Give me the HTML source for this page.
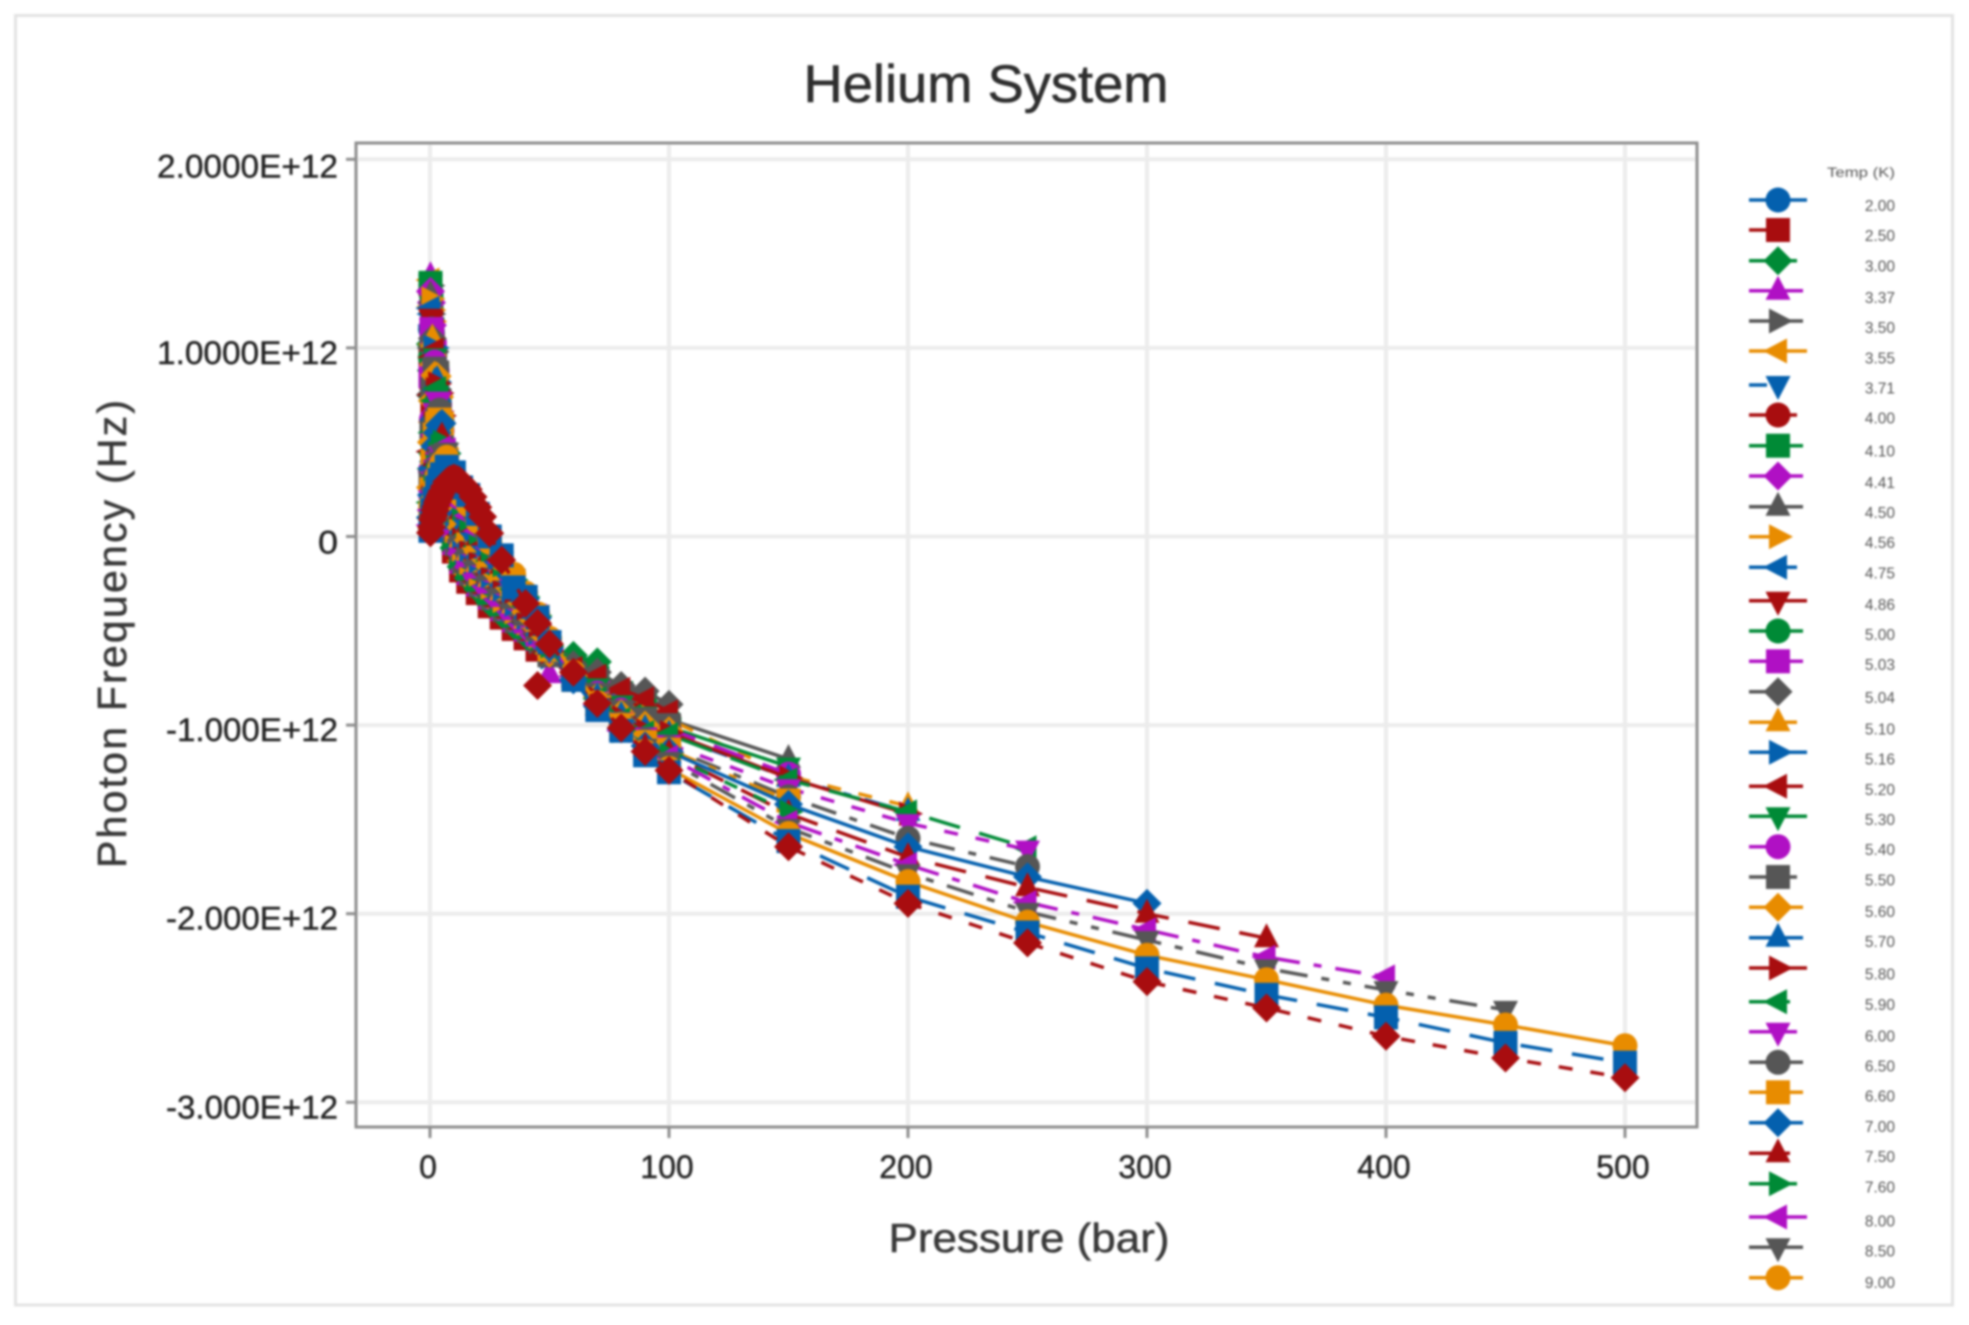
<!DOCTYPE html>
<html lang="en">
<head>
<meta charset="utf-8">
<title>Helium System</title>
<style>
html,body{margin:0;padding:0;background:#fff;width:1969px;height:1325px;overflow:hidden}
svg{display:block;filter:blur(1.1px);font-family:"Liberation Sans",sans-serif}
</style>
</head>
<body>
<svg id="chart" xmlns="http://www.w3.org/2000/svg" width="1969" height="1325" viewBox="0 0 1969 1325">
  <rect x="15.5" y="15.5" width="1937" height="1289.5" fill="#fff" stroke="#e3e3e3" stroke-width="3"/>
  <text x="986" y="102" font-size="53" text-anchor="middle" fill="#2e2e2e" stroke="#2e2e2e" stroke-width="0.6" textLength="365" lengthAdjust="spacingAndGlyphs">Helium System</text>
  <g id="grid"></g>
  <g id="ticks"></g>
  <rect x="356" y="143" width="1341" height="984" fill="none" stroke="#8e8e8e" stroke-width="3"/>
  <g id="marks"></g>
  <text x="1029" y="1252" font-size="41" text-anchor="middle" fill="#383838" stroke="#383838" stroke-width="0.5" textLength="281" lengthAdjust="spacingAndGlyphs">Pressure (bar)</text>
  <text transform="translate(126,634) rotate(-90)" font-size="41" text-anchor="middle" fill="#383838" stroke="#383838" stroke-width="0.5" textLength="468" lengthAdjust="spacing">Photon Frequency (Hz)</text>
  <text x="1895" y="177" font-size="14" text-anchor="end" fill="#555" textLength="68" lengthAdjust="spacingAndGlyphs">Temp (K)</text>
  <g id="legend"></g>
</svg>
<script>
const n = null;
const xTicks = [0, 100, 200, 300, 400, 500];
const yTicks = [2, 1, 0, -1, -2, -3];
const yTickLabels = ["2.0000E+12", "1.0000E+12", "0", "-1.000E+12", "-2.000E+12", "-3.000E+12"];
const pressures = [0.2,0.6,1,2,3,4,5,7,10,13,16,20,25,30,35,40,45,50,60,70,80,90,100,150,200,250,300,350,400,450,500];
const legendTemps = ["2.00","2.50","3.00","3.37","3.50","3.55","3.71","4.00","4.10","4.41","4.50","4.56","4.75","4.86","5.00","5.03","5.04","5.10","5.16","5.20","5.30","5.40","5.50","5.60","5.70","5.80","5.90","6.00","6.50","6.60","7.00","7.50","7.60","8.00","8.50","9.00"];

/* photon frequency in units of 1E+12 Hz, one value per pressure until the series ends */
const t200 = [1.10,.9,.72,.55,.42,.33,.25,.07,-.07,-.17,-.23,-.29,-.36,-.42];
const t250 = [.95,.84,.68,.52,.40,.31,.24,.05,-.08,-.18,-.24,-.30,-.37,-.43,-.49,-.54,-.60];
const t300 = [1.02,.88,.74,.58,.43,.34,.26,.08,-.06,-.16,-.22,-.28,-.35,-.41,-.47,-.52,-.56,-.59,-.63,-.665];
const t337 = [1.38,1.2,.96,.66,.47,.36,.28,.1,-.05,-.15,-.21,-.27,-.34,-.40,-.46,-.51,-.56,-.73];
const t350 = [1.33,1.18,1.0,.7,.5,.38,.29,.11,-.04,-.14,-.20,-.26,-.33,-.39,-.45,-.50,-.56,-.62,-.68];
const t355 = [1.36,1.22,1.02,.72,.52,.39,.3,.12,-.03,-.13,-.20,-.26,-.32,-.38,-.44,-.50,-.55,-.61];
const t371 = [1.34,1.22,1.05,.76,.55,.41,.31,.13,-.02,-.12,-.19,-.25,-.31,-.38,-.44,-.50,-.56,-.62,-.69,-.74];
const t400 = [1.30,1.2,1.07,.8,.58,.43,.33,.14,-.01,-.11,-.18,-.24,-.31,-.37,-.43,-.49,-.55,-.61,-.70,-.76,-.82];
const t410 = [1.345,1.25,1.1,.83,.6,.45,.35,.15,0,-.10,-.17,-.23,-.30,-.36,-.42,-.48,-.54,-.60,-.69,-.75,-.83,-.88];
const t441 = [1.30,1.24,1.12,.86,.62,.47,.37,.16,.01,-.09,-.16,-.22,-.29,-.35,-.42,-.48,-.54,-.60,-.70,-.77,-.85];
const t450 = [1.28,1.24,1.14,.89,.65,.49,.38,.17,.02,-.08,-.15,-.21,-.28,-.34,-.41,-.47,-.53,-.59,-.68,-.72,-.85,-.90,-.97,-1.18];
const t456 = [1.26,1.2,1.14,.92,.68,.51,.39,.18,.03,-.07,-.14,-.20,-.27,-.34,-.40,-.46,-.53,-.59,-.70,-.78,-.86,-.92];
const t475 = [1.21,1.18,1.12,.94,.7,.53,.41,.19,.04,-.06,-.13,-.19,-.26,-.33,-.40,-.46,-.52,-.60,-.72,-.80,-.88,-.96];
const t486 = [1.16,1.15,1.10,.96,.72,.55,.43,.2,.05,-.05,-.12,-.18,-.25,-.32,-.39,-.46,-.52,-.60,-.71,-.79,-.87,-.93,-1.00];
const t500 = [.95,1.10,1.08,.96,.74,.57,.45,.21,.06,-.04,-.11,-.17,-.25,-.31,-.38,-.45,-.52,-.61,-.72,-.80,-.88,-.95,-.97];
const t503 = [.85,1.10,1.07,.98,.76,.58,.46,.22,.07,-.03,-.10,-.16,-.24,-.31,-.38,-.45,-.52,-.62,-.73,-.82,-.90,-.97,-1.02];
const t504 = [.75,1.0,1.05,.98,.78,.6,.47,.23,.08,-.02,-.09,-.15,-.23,-.30,-.37,-.44,-.51,-.62,-.68,-.72,-.79,-.82,-.89];
const t510 = [.65,.95,1.05,1.0,.8,.62,.48,.24,.09,-.01,-.08,-.14,-.22,-.29,-.36,-.44,-.51,-.63,-.74,-.83,-.90,-.94,-.97,-1.27,-1.43];
const t516 = [.55,.85,1.0,1.0,.82,.64,.5,.25,.1,0,-.07,-.13,-.21,-.28,-.36,-.43,-.51,-.64,-.75,-.85,-.96,-1.02,-1.06];
const t520 = [.45,.75,.95,.99,.84,.66,.52,.26,.11,.01,-.06,-.12,-.2,-.27,-.35,-.43,-.5,-.63,-.7,-.74,-.81,-.86,-.93];
const t530 = [.4,.7,.9,.95,.86,.68,.54,.27,.12,.02,-.05,-.11,-.19,-.26,-.34,-.42,-.5,-.62,-.72,-.80,-.89,-.95,-1.01,-1.22];
const t540 = [.35,.62,.85,.925,.88,.7,.56,.28,.13,.03,-.04,-.1,-.18,-.25,-.33,-.42,-.5,-.63,-.74,-.83,-.92,-.99,-1.02,-1.26];
const t550 = [.3,.56,.78,.89,.87,.72,.58,.29,.14,.04,-.03,-.09,-.17,-.24,-.32,-.41,-.49,-.63,-.74,-.84,-.93,-.97,-1.00];
const t560 = [.26,.5,.72,.855,.85,.74,.6,.3,.15,.05,-.02,-.08,-.16,-.23,-.31,-.4,-.49,-.62,-.74,-.85,-.94,-1.0,-1.03];
const t570 = [.22,.44,.66,.82,.83,.76,.62,.32,.16,.06,-.01,-.07,-.15,-.22,-.3,-.39,-.48,-.62,-.75,-.85,-.95,-1.02,-1.05,-1.28,-1.46];
const t580 = [.2,.4,.6,.78,.81,.76,.64,.34,.17,.07,0,-.06,-.14,-.21,-.29,-.38,-.47,-.61,-.75,-.86,-.96,-1.03,-1.04,-1.28,-1.47];
const t590 = [.18,.36,.55,.72,.785,.74,.64,.36,.18,.08,.01,-.05,-.13,-.2,-.28,-.37,-.46,-.6,-.74,-.86,-.97,-1.04,-1.05,-1.29,-1.46,-1.65];
const t600 = [.16,.32,.5,.66,.72,.72,.62,.38,.19,.09,.02,-.04,-.12,-.19,-.27,-.36,-.45,-.6,-.75,-.87,-.98,-1.06,-1.10,-1.335,-1.52,-1.66];
const t650 = [.14,.28,.44,.6,.65,.67,.62,.40,.2,.1,.03,-.03,-.11,-.18,-.26,-.35,-.45,-.6,-.75,-.88,-.99,-1.08,-1.12,-1.38,-1.6,-1.75];
const t660 = [.12,.25,.4,.54,.6,.62,.6,.41,.21,.11,.04,-.02,-.1,-.17,-.25,-.34,-.44,-.6,-.76,-.89,-1.0,-1.09,-1.13,-1.4];
const t700 = [.1,.22,.36,.48,.55,.59,.6,.44,.22,.12,.05,-.01,-.09,-.16,-.24,-.33,-.43,-.59,-.76,-.9,-1.02,-1.11,-1.14,-1.42,-1.645,-1.805,-1.945];
const t750 = [.08,.18,.3,.42,.48,.51,.53,.46,.23,.14,.07,0,-.08,-.15,-.24,-.33,-.42,-.58,-.75,-.9,-1.03,-1.12,-1.15,-1.47,-1.70,-1.86,-2.0,-2.13];
const t760 = [.07,.16,.27,.38,.44,.48,.5,.44,.23,.15,.09,.02,-.07,-.15,-.23,-.32,-.42,-.58,-.75,-.9,-1.03,-1.13,-1.16,-1.46];
const t800 = [.06,.14,.24,.34,.4,.44,.47,.46,.28,.17,.11,.03,-.06,-.14,-.23,-.32,-.42,-.56,-.74,-.89,-1.03,-1.14,-1.17,-1.515,-1.74,-1.94,-2.085,-2.23,-2.335];
const t850 = [.05,.12,.21,.3,.36,.4,.44,.45,.3,.19,.13,.05,-.05,-.13,-.22,-.31,-.41,-.55,-.72,-.88,-1.0,-1.12,-1.19,-1.545,-1.785,-1.99,-2.14,-2.29,-2.405,-2.51];
const t900 = [.04,.1,.18,.26,.32,.36,.39,.42,.32,.22,.17,.08,-.03,-.12,-.2,-.3,-.41,-.54,-.72,-.88,-1.0,-1.14,-1.23,-1.575,-1.83,-2.045,-2.22,-2.35,-2.485,-2.59,-2.70];
const tHighA = [.03,.07,.14,.2,.26,.3,.33,.37,.34,.26,.22,.12,0,-.1,-.27,-.32,-.43,-.56,-.76,-.92,-1.03,-1.16,-1.25,-1.615,-1.91,-2.10,-2.29,-2.43,-2.55,-2.685,-2.79];
const tHighB = [.02,.05,.09,.14,.18,.21,.24,.29,.31,.29,.25,.155,.017,-.125,n,-.355,-.46,-.57,-.72,-.885,-1.015,-1.14,-1.24,-1.645,-1.945,-2.155,-2.36,-2.5,-2.65,-2.765,-2.87];
const seriesValues = [t200,t250,t300,t337,t350,t355,t371,t400,t410,t441,t450,t456,t475,t486,t500,t503,t504,t510,t516,t520,t530,t540,t550,t560,t570,t580,t590,t600,t650,t660,t700,t750,t760,t800,t850,t900,tHighA,tHighB];
/* further measured points of the last series that sit between the shared pressures */
const extraPressure = [45,1.5,2.5,3.5,4.5,6,8,9,11,12,14,15,18,22];
const extraFrequency = [-0.79,.11,.16,.195,.225,.265,.30,.305,.305,.30,.275,.265,.21,.105];

const palette = ["#0460ae","#a80d0f","#008a36","#b010c4","#565656","#e88c00"];
const symbols = ["circle","square","diamond","triangle","right","left","down"];
const dashPatterns = ["", "32 20", "14 18", "26 14 8 14", "28 14 8 14 8 14"];
const legendRowY = [200,230,260.7,290.7,321,351,385,415,445.7,476,506.7,536.7,567.3,600.7,631,661.3,691.7,722.3,752.3,786.3,816.3,846.7,877,907.3,937.7,968,1001.7,1031.7,1062.3,1092.3,1122.7,1153.3,1183.7,1217,1247.3,1277.7];
const legendLabelY = [211,241.2,271.4,302.9,333.1,363.3,393.5,423.7,456.4,487.8,518,548.2,578.4,609.8,640,670.2,702.9,734.4,764.6,794.8,825,855.2,885.3,916.8,947,979.7,1009.9,1041.3,1071.5,1101.7,1131.9,1162.1,1192.3,1226.3,1256.5,1287.9];
const legendLineEnd = [1807,1767,1797,1803,1803,1807,1767,1797,1803,1803,1803,1790,1797,1807,1803,1803,1790,1797,1807,1803,1807,1790,1797,1803,1803,1807,1790,1797,1803,1803,1803,1790,1797,1807,1803,1803];
const yLabelOffset = [18,16,17,16,16,16];

const SVGNS = "http://www.w3.org/2000/svg";
function xScale(p){ return 430 + p * 2.39; }
function yScale(f){ return 536.5 - f * 188.6; }

function svgEl(tag, attrs){
  const el = document.createElementNS(SVGNS, tag);
  for (const k in attrs) el.setAttribute(k, attrs[k]);
  return el;
}
function markerShape(sym, cx, cy, color){
  const r = 12.5;
  let el;
  if (sym === "circle") {
    el = svgEl("circle", {cx: cx, cy: cy, r: r, fill: color});
  } else if (sym === "square") {
    el = svgEl("rect", {x: cx - 12, y: cy - 12, width: 24, height: 24, fill: color});
  } else {
    let pts;
    if (sym === "diamond") pts = [[0,-14.5],[14.5,0],[0,14.5],[-14.5,0]];
    if (sym === "triangle") pts = [[0,-15],[12.5,9],[-12.5,9]];
    if (sym === "down") pts = [[0,15],[12.5,-9],[-12.5,-9]];
    if (sym === "right") pts = [[15,0],[-9,12.5],[-9,-12.5]];
    if (sym === "left") pts = [[-15,0],[9,12.5],[9,-12.5]];
    el = svgEl("polygon", {points: pts.map(q => (cx + q[0]) + "," + (cy + q[1])).join(" "), fill: color});
  }
  return el;
}

const gridG = document.getElementById("grid");
const ticksG = document.getElementById("ticks");
xTicks.forEach(function(v){
  const gl = svgEl("line", {x1: xScale(v), x2: xScale(v), y1: 145, y2: 1125, stroke: "#ececec", "stroke-width": 4});
  
  
  gridG.appendChild(gl);
  const tk = svgEl("line", {x1: xScale(v), x2: xScale(v), y1: 1127, y2: 1138, stroke: "#8e8e8e", "stroke-width": 3});
  
  
  ticksG.appendChild(tk);
  const tx = svgEl("text", {x: xScale(v) - 2, y: 1178, "font-size": 32, "text-anchor": "middle", fill: "#222", stroke: "#222", "stroke-width": 0.4});
  tx.textContent = String(v);
  
  
  ticksG.appendChild(tx);
});
yTicks.forEach(function(v, i){
  const gl = svgEl("line", {x1: 358, x2: 1695, y1: yScale(v), y2: yScale(v), stroke: "#ececec", "stroke-width": 4});
  
  
  gridG.appendChild(gl);
  const tk = svgEl("line", {x1: 346, x2: 356, y1: yScale(v), y2: yScale(v), stroke: "#8e8e8e", "stroke-width": 3});
  
  
  ticksG.appendChild(tk);
  const tx = svgEl("text", {x: 338, y: yScale(v) + yLabelOffset[i], "font-size": 32, "text-anchor": "end", fill: "#222", stroke: "#222", "stroke-width": 0.4, textLength: v === 0 ? 20 : (i < 2 ? 181 : 172), lengthAdjust: "spacingAndGlyphs"});
  tx.textContent = yTickLabels[i];
  
  
  ticksG.appendChild(tx);
});

const marksG = document.getElementById("marks");
seriesValues.forEach(function(vals, si){
  const color = palette[si % palette.length];
  const sym = symbols[si % symbols.length];
  const g = svgEl("g", {});
  
  
  const pts = [];
  vals.forEach(function(v, j){
    if (v !== null) pts.push([xScale(pressures[j]), yScale(v)]);
  });
  const attrs = {points: pts.map(q => q[0] + "," + q[1]).join(" "), fill: "none", stroke: color, "stroke-width": 3.5};
  const dash = dashPatterns[si % dashPatterns.length];
  if (dash) attrs["stroke-dasharray"] = dash;
  const line = svgEl("polyline", attrs);
  
  
  g.appendChild(line);
  pts.forEach(function(q){
    const m = markerShape(sym, q[0], q[1], color);
    
    
    g.appendChild(m);
  });
  if (si === seriesValues.length - 1) {
    extraPressure.forEach(function(p, k){
      const m = markerShape(sym, xScale(p), yScale(extraFrequency[k]), color);
      
      
      g.appendChild(m);
    });
  }
  marksG.appendChild(g);
});

const legendG = document.getElementById("legend");
legendTemps.forEach(function(label, i){
  const y = legendRowY[i];
  const color = palette[i % palette.length];
  const g = svgEl("g", {});
  
  
  const ln = svgEl("line", {x1: 1749, x2: legendLineEnd[i], y1: y, y2: y, stroke: color, "stroke-width": 3.5});
  
  
  g.appendChild(ln);
  const m = markerShape(symbols[i % symbols.length], 1778, y, color);
  
  
  g.appendChild(m);
  const tx = svgEl("text", {x: 1895, y: legendLabelY[i], "font-size": 15.5, "text-anchor": "end", fill: "#555"});
  tx.textContent = label;
  
  
  g.appendChild(tx);
  legendG.appendChild(g);
});
</script>
</body>
</html>
